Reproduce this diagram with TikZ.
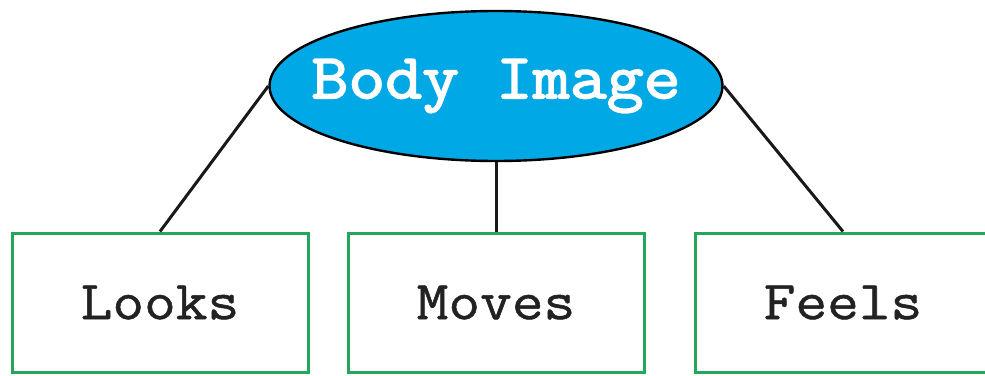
\documentclass[tikz,border=0pt]{standalone}
\usepackage{fontspec}
\newfontfamily\hubfont[FakeStretch=1.12,FakeBold=2.5]{Latin Modern Mono}
\newfontfamily\partfont[FakeStretch=1.12,FakeBold=1]{Latin Modern Mono}
\usepackage{tikz}
\usetikzlibrary{positioning,shapes.geometric}
\definecolor{hubcol}{RGB}{0,168,230}
\definecolor{partcol}{RGB}{38,166,91}
\definecolor{inkcol}{RGB}{34,34,34}
\tikzset{
  hub/.style={ellipse, draw=black, fill=hubcol, line width=2.4pt, minimum width=453pt, minimum height=150pt, inner sep=0pt, text=white, font=\hubfont\fontsize{64}{70}\selectfont},
  part/.style={rectangle, draw=partcol, fill=white, line width=3pt, minimum width=296pt, minimum height=139pt, inner sep=0pt, text=inkcol, font=\partfont\fontsize{55}{60}\selectfont},
  link/.style={line width=3pt, draw=black!90},
}
\begin{document}
\begin{tikzpicture}[x=1pt, y=-1pt]
  \useasboundingbox (0,0) rectangle (985,375);
  \node[hub] (body) at (496,86) {\makebox[0pt]{Body Image}};
  \node[part] (looks) at (160,302.5) {Looks};
  \node[part] (moves) at (496,302.5) {Moves};
  \node[part] (feels) at (843,302.5) {Feels};
  \draw[link] (body.west) -- (looks.north);
  \draw[link] (body.south) -- (moves.north);
  \draw[link] (body.east) -- (feels.north);
\end{tikzpicture}
\end{document}
